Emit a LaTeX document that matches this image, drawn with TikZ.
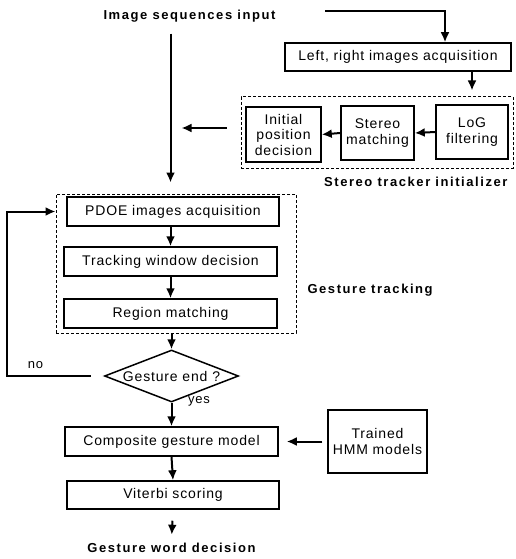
\documentclass[tikz,border=0pt]{standalone}
\usepackage{fontspec}
\setmainfont{Liberation Sans}
\newfontfamily\blockfont[LetterSpace=6]{Liberation Sans}
\newfontfamily\titlefont[LetterSpace=12]{Liberation Sans}
\usetikzlibrary{arrows.meta,shapes.geometric}
\begin{document}
\begin{tikzpicture}[x=1pt,y=-1pt,
        block/.style={draw,line width=1.5pt,inner sep=0pt,align=center,
            minimum width=213pt,minimum height=29pt,
            font=\blockfont\fontsize{14}{15.5}\selectfont},
        group/.style={draw,line width=1pt,dash pattern=on 3pt off 2pt,
            inner sep=0pt},
        heading/.style={font=\titlefont\bfseries\fontsize{13}{15}\selectfont},
        decision/.style={draw,diamond,line width=1.5pt,inner sep=0pt,
            minimum width=134pt,minimum height=52pt},
        arr/.style={line width=2pt,-{Latex[length=10pt,width=9pt]}}]
                \useasboundingbox (0,0) rectangle (515,559);
                \node[heading] (input) at (189.5,16) {Image sequences input};
                \coordinate (feed) at (325,11);
                \node[block,minimum width=226pt,minimum height=28pt] (lr) at (398,57) {Left, right images acquisition};
                \node[group,minimum width=272pt,minimum height=71pt] (st) at (377,132.5) {};
                \node[block,minimum width=75pt,minimum height=55pt] (init) at (283.5,134.5) {Initial\\position\\decision};
                \node[block,minimum width=73pt,minimum height=54pt] (stereo) at (377.5,133) {Stereo\\matching};
                \node[block,minimum width=72pt,minimum height=54pt] (logf) at (472,132) {LoG\\filtering};
                \node[heading,anchor=east] (stlabel) at (511,182) {Stereo tracker initializer};
                \draw[arr] (feed) -| ([xshift=47pt]lr.north);
                \draw[arr,shorten >=6pt] (lr.south -| logf) -- (st.north -| logf);
                \draw[arr] (logf.west) -- (stereo.east);
                \draw[arr] (stereo.west) -- (init.east);
                \draw[arr] (st.west) ++(-14,-4.5) -- ++(-45,0);
                \node[group,minimum width=240pt,minimum height=139pt] (gt) at (176,263.5) {};
                \node[block,minimum width=212pt] (pdoe) at (173,211.5) {PDOE images acquisition};
                \node[block] (track) at (170.5,261.5) {Tracking window decision};
                \node[block] (region) at (170.5,313.5) {Region matching};
                \node[heading,anchor=west] (gtlabel) at (304,290) {Gesture tracking};
                \draw[arr,shorten <=8pt,shorten >=11pt] (input.south -| track) -- (gt.north -| track);
                \draw[arr] (pdoe.south -| track) -- (track.north);
                \draw[arr] (track.south) -- (region.north);
                \node[decision] (ge) at (171.5,376) {};
                \node[font=\blockfont\fontsize{14}{15.5}\selectfont] (getext) at (ge) {Gesture end ?};
                \draw[arr] (gt.south -| ge) -- (ge.north);
                \draw[arr,shorten <=13pt] (ge.west) -- ++(-96.5,0) |- (gt.west |- pdoe);
                \node[font=\blockfont\fontsize{13}{15}\selectfont] (no) at (35.5,365) {no};
                \node[font=\blockfont\fontsize{13}{15}\selectfont] (yes) at (199,401) {yes};
                \node[block] (comp) at (171.5,441.5) {Composite gesture model};
                \node[block,minimum width=99pt,minimum height=63pt] (hmm) at (377.5,441.5) {Trained\\HMM models};
                \node[block,minimum width=212pt,minimum height=28pt] (viterbi) at (173,495) {Viterbi scoring};
                \node[heading] (word) at (171.5,548) {Gesture word decision};
                \draw[arr] (ge.south) -- (comp.north);
                \draw[arr,shorten <=5pt,shorten >=8pt] (hmm.west) -- (comp.east);
                \draw[arr] (comp.south) -- (viterbi.north);
                \draw[arr,shorten <=11pt,shorten >=5pt] (viterbi.south) -- (word.north);
            \end{tikzpicture}
\end{document}
